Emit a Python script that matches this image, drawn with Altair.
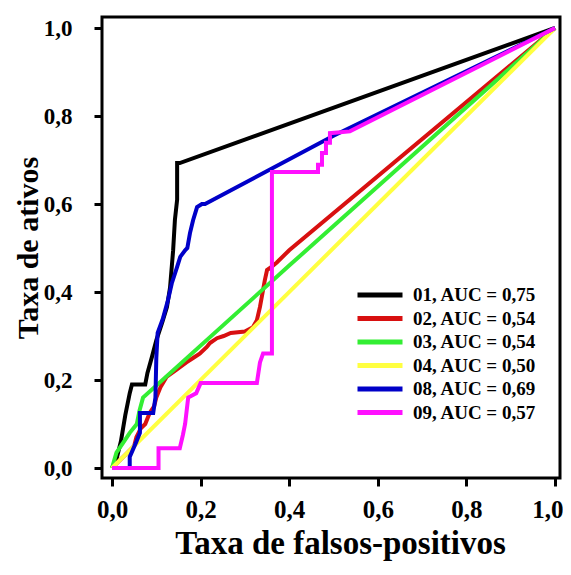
import altair as alt
import pandas as pd

labels = ["01, AUC = 0,75", "02, AUC = 0,54", "03, AUC = 0,54",
          "04, AUC = 0,50", "08, AUC = 0,69", "09, AUC = 0,57"]
colors = ["#000000", "#d81010", "#33ee33", "#ffff40", "#0000c8", "#ff10ff"]

x01 = [0, 0.01, 0.02, 0.03, 0.04, 0.045, 0.075, 0.08, 0.09, 0.1, 0.113, 0.124, 0.131, 0.138, 0.142, 0.147, 0.147, 0.153, 1]
y01 = [0, 0.02, 0.06, 0.12, 0.17, 0.19, 0.19, 0.216, 0.252, 0.29, 0.33, 0.366, 0.41, 0.495, 0.564, 0.61, 0.693, 0.693, 1]

x02 = [0, 0.03, 0.05, 0.055, 0.065, 0.075, 0.085, 0.095, 0.1, 0.11, 0.123, 0.145, 0.168, 0.183, 0.198, 0.214, 0.221, 0.237, 0.252, 0.268, 0.3, 0.318, 0.327, 0.334, 0.341, 0.345, 0.35, 0.36, 0.372, 0.4, 1]
y02 = [0, 0.03, 0.05, 0.07, 0.09, 0.1, 0.125, 0.14, 0.16, 0.185, 0.207, 0.223, 0.24, 0.25, 0.26, 0.275, 0.284, 0.295, 0.3, 0.307, 0.31, 0.32, 0.336, 0.366, 0.405, 0.427, 0.45, 0.457, 0.467, 0.495, 1]

x03 = [0, 0.01, 0.025, 0.04, 0.056, 0.062, 0.07, 0.4, 1]
y03 = [0, 0.035, 0.057, 0.08, 0.1, 0.13, 0.16, 0.46, 1]

x04 = [0, 1]
y04 = [0, 1]

x08 = [0.04, 0.04, 0.055, 0.063, 0.063, 0.093, 0.098, 0.1, 0.103, 0.115, 0.126, 0.135, 0.147, 0.154, 0.165, 0.17, 0.176, 0.183, 0.192, 0.203, 0.21, 0.5, 1]
y08 = [0.0, 0.025, 0.06, 0.08, 0.125, 0.125, 0.16, 0.25, 0.307, 0.34, 0.38, 0.42, 0.457, 0.48, 0.495, 0.5, 0.534, 0.563, 0.593, 0.6, 0.6, 0.755, 1]

x09 = [0, 0.105, 0.105, 0.153, 0.16, 0.165, 0.172, 0.19, 0.2, 0.327, 0.334, 0.341, 0.361, 0.361, 0.465, 0.465, 0.474, 0.474, 0.483, 0.483, 0.492, 0.492, 0.537, 1]
y09 = [0, 0, 0.045, 0.045, 0.075, 0.1, 0.16, 0.17, 0.193, 0.193, 0.24, 0.26, 0.26, 0.673, 0.673, 0.689, 0.689, 0.716, 0.716, 0.739, 0.739, 0.761, 0.765, 1]

series_x = [x01, x02, x03, x04, x08, x09]
series_y = [y01, y02, y03, y04, y08, y09]

rows = []
for lab, xs, ys in zip(labels, series_x, series_y):
    for i, (xv, yv) in enumerate(zip(xs, ys)):
        rows.append({"serie": lab, "fp": xv, "ta": yv, "idx": i})
df = pd.DataFrame(rows)

FONT = "Liberation Serif"
label_expr = "replace(format(datum.value, '.1f'), '.', ',')"
ticks = [0, 0.2, 0.4, 0.6, 0.8, 1.0]

chart = alt.Chart(df).mark_line(strokeWidth=4, strokeJoin="miter", strokeCap="butt").encode(
    x=alt.X("fp:Q", scale=alt.Scale(domain=[-0.0226, 1.0113], nice=False, zero=False),
            axis=alt.Axis(values=ticks, labelExpr=label_expr, title="Taxa de falsos-positivos",
                          grid=False, domain=False, tickColor="black", tickWidth=3, tickSize=8,
                          labelFont=FONT, labelFontSize=25, labelFontWeight="bold", labelColor="black",
                          labelPadding=11, labelFlush=6, labelFlushOffset=8,
                          titleFont=FONT, titleFontSize=33, titleFontWeight="bold",
                          titleColor="black", titlePadding=5, titleX=238)),
    y=alt.Y("ta:Q", scale=alt.Scale(domain=[-0.0227, 1.025], nice=False, zero=False),
            axis=alt.Axis(values=ticks, labelExpr=label_expr, title="Taxa de ativos",
                          grid=False, domain=False, tickColor="black", tickWidth=3, tickSize=8,
                          labelFont=FONT, labelFontSize=23, labelFontWeight="bold", labelColor="black",
                          labelPadding=22, titleFont=FONT, titleFontSize=30, titleFontWeight="bold",
                          titleColor="black", titlePadding=0)),
    color=alt.Color("serie:N", scale=alt.Scale(domain=labels, range=colors),
                    legend=alt.Legend(title=None, orient="none", legendX=253, legendY=268,
                                      symbolType="stroke", symbolSize=2025, symbolStrokeWidth=5,
                                      clipHeight=20, rowPadding=3.5,
                                      labelFont=FONT, labelFontSize=19, labelFontWeight="bold",
                                      labelColor="black", labelOffset=8)),
    order=alt.Order("idx:Q"),
).properties(
    width=458, height=461,
    autosize=alt.AutoSizeParams(type="none"),
    padding={"left": 94, "top": 9, "right": 3, "bottom": 89},
).configure_view(stroke="black", strokeWidth=3)

chart.save("out.html", embed_options={"renderer": "svg", "actions": False})
